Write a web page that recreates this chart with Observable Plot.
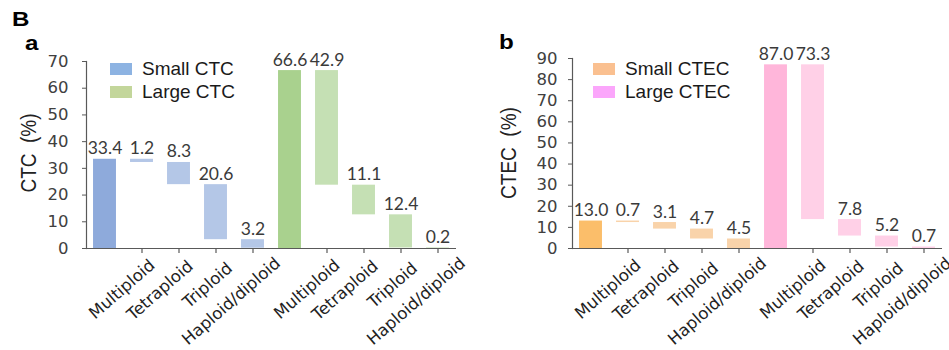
<!DOCTYPE html>
<html><head><meta charset="utf-8">
<script src="https://cdn.jsdelivr.net/npm/d3@7"></script>
<script src="https://cdn.jsdelivr.net/npm/@observablehq/plot@0.6"></script>
<style>
body{margin:0;background:#fff;font-family:Arial,"Liberation Sans",sans-serif;}
#wrap{position:relative;width:949px;height:350px;overflow:hidden;background:#fff;}
.panel{position:absolute;top:0;}
.lbl{position:absolute;font-weight:bold;color:#000;font-size:21px;line-height:1;transform:scaleX(1.15);transform-origin:0 0;}
.ytitle{position:absolute;transform:translate(-50%,-50%) scaleX(1.2) rotate(-90deg);white-space:pre;font-size:19px;color:#222;line-height:1;}
.legend{position:absolute;font-size:19px;color:#1a1a1a;}
.legend .row{display:flex;align-items:center;height:23px;}
.legend .sw{width:22px;height:12px;margin-right:10px;}
</style></head><body>
<div id="wrap">
  <div class="lbl" style="left:12px;top:8px;">B</div>
  <div class="lbl" style="left:25px;top:32px;">a</div>
  <div class="lbl" style="left:499px;top:31px;">b</div>
  <div id="left" class="panel" style="left:0px;"></div>
  <div id="right" class="panel" style="left:474px;"></div>
  <div class="ytitle" style="left:28px;top:153px;">CTC  (%)</div>
  <div class="ytitle" style="left:508px;top:153px;">CTEC  (%)</div>
  <div class="legend" id="legL" style="left:110px;top:57px;"></div>
  <div class="legend" id="legR" style="left:593px;top:57px;"></div>
</div>
<script>
const categories = ["Multiploid", "Tetraploid", "Triploid", "Haploid/diploid"];
const ctcGroups = ["Small CTC", "Large CTC"];
const ctecGroups = ["Small CTEC", "Large CTEC"];
// first value = group total, then Multiploid, Tetraploid, Triploid, Haploid/diploid
const smallCTC = [33.4, 1.2, 8.3, 20.6, 3.2];
const largeCTC = [66.6, 42.9, 11.1, 12.4, 0.2];
const smallCTEC = [13.0, 0.7, 3.1, 4.7, 4.5];
const largeCTEC = [87.0, 73.3, 7.8, 5.2, 0.7];
const ctcTicks = [0, 10, 20, 30, 40, 50, 60, 70];
const ctecTicks = [0, 10, 20, 30, 40, 50, 60, 70, 80, 90];

const ctcColors = [["#8eaadb", "#b4c7e7"], ["#a9d18e", "#c5e0b4"]];
const ctecColors = [["#fbbe6a", "#f9d3aa"], ["#ffb6da", "#ffd0e7"]];
const ctcLegend = ["#8db3e2", "#c3d69b"];
const ctecLegend = ["#fac090", "#fba6fb"];

// label placement (pixel offsets of each rotated category label from its tick)
const labelOffset = {
  "Multiploid": [10.4, 14.3],
  "Tetraploid": [11.6, 15.3],
  "Triploid": [13.9, 17.3],
  "Haploid/diploid": [24.9, 12.3]
};

function buildRows(seriesList, colors) {
  const rows = [];
  seriesList.forEach((vals, g) => {
    rows.push({i: g * 5, y1: 0, y2: vals[0], v: vals[0], fill: colors[g][0], name: null});
    let top = vals[0];
    for (let k = 1; k < vals.length; k++) {
      rows.push({i: g * 5 + k, y1: top - vals[k], y2: top, v: vals[k], fill: colors[g][1], name: categories[k - 1]});
      top -= vals[k];
    }
  });
  return rows;
}

function chart(rows, yTicks, yMax, m) {
  const tickRows = rows.filter(d => d.name);
  const frameH = 350 - m.top - 102;
  return Plot.plot({
    width: 475, height: 350,
    marginLeft: m.left, marginRight: m.right, marginTop: m.top, marginBottom: 102,
    style: {color: "#404040", background: "transparent", overflow: "visible"},
    x: {type: "band", domain: d3.range(10), paddingInner: 0.38, paddingOuter: 0.19, round: false, axis: null},
    y: {type: "linear", domain: [0, yMax], axis: null},
    color: {type: "identity"},
    marks: [
      Plot.barY(rows, {x: "i", y1: "y1", y2: "y2", fill: "fill"}),
      Plot.text(rows, {x: "i", y: "y2", text: d => d.v.toFixed(1), dy: -5, lineAnchor: "bottom",
        fontSize: 17.5, fontFamily: "Lato", fill: "#3a3a3a"}),
      Plot.ruleY([0], {stroke: "#595959", strokeWidth: 1.2}),
      Plot.frame({anchor: "left", stroke: "#595959", strokeWidth: 1.2}),
      Plot.axisY({ticks: yTicks, tickSize: 4, tickPadding: m.pad, fontSize: 16.5, fontFamily: "DejaVu Sans", label: null, stroke: "#595959"}),
      Plot.tickX(tickRows, {x: "i", insetTop: frameH - 5, dy: 5, strokeWidth: 1.2, stroke: "#595959"}),
      ...categories.map(c => Plot.text(tickRows.filter(d => d.name === c), {
        x: "i", frameAnchor: "bottom", text: "name", rotate: -41, textAnchor: "end",
        lineAnchor: "middle", dx: labelOffset[c][0], dy: labelOffset[c][1],
        fontSize: 16.5, fontFamily: "DejaVu Sans", fill: "#222"}))
    ]
  });
}

document.getElementById("left").append(
  chart(buildRows([smallCTC, largeCTC], ctcColors), ctcTicks, 70, {left: 86, right: 19, top: 61, pad: 14}));
document.getElementById("right").append(
  chart(buildRows([smallCTEC, largeCTEC], ctecColors), ctecTicks, 90, {left: 98, right: 7, top: 58, pad: 11}));

function legend(id, names, colors) {
  const el = document.getElementById(id);
  names.forEach((n, k) => {
    const r = document.createElement("div"); r.className = "row";
    const s = document.createElement("div"); s.className = "sw"; s.style.background = colors[k];
    const t = document.createElement("span"); t.textContent = n;
    r.append(s, t); el.append(r);
  });
}
legend("legL", ctcGroups, ctcLegend);
legend("legR", ctecGroups, ctecLegend);
</script>
</body></html>
